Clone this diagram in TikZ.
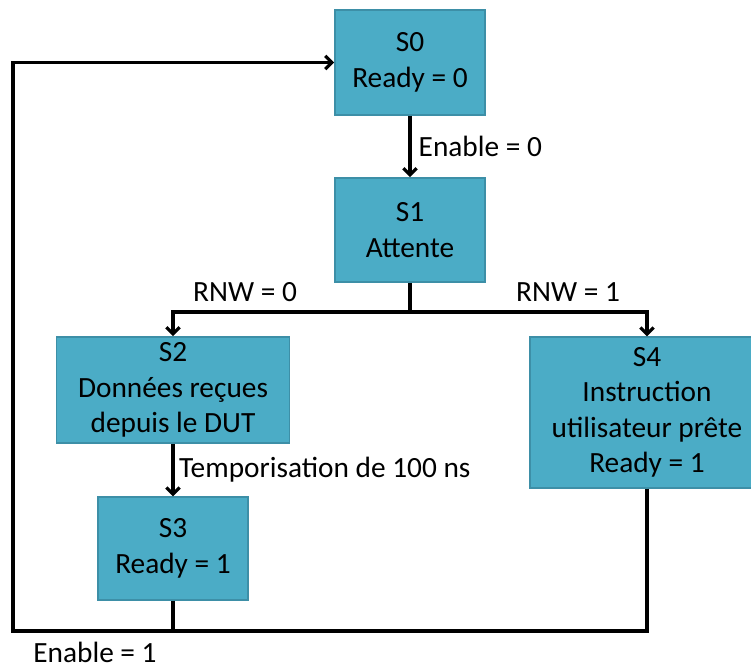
\documentclass[tikz,border=0pt]{standalone}
\usepackage{fontspec}
\setmainfont{Carlito}
\usetikzlibrary{arrows.meta}

\definecolor{boxfill}{HTML}{4BACC6}
\definecolor{boxline}{HTML}{3D8FA7}

\begin{document}
\begin{tikzpicture}[x=0.75pt, y=-0.75pt, >={Straight Barb[length=5pt,width=10pt]},
  state/.style={draw=boxline, line width=1.2pt, fill=boxfill, align=center,
    inner sep=0pt, font=\fontsize{22}{26.5}\selectfont},
  link/.style={line width=2.4pt, line join=miter},
  lbl/.style={font=\fontsize{22}{26}\selectfont}]
\useasboundingbox (0,0) rectangle (751,668);
%--- States ---
\node[state, minimum width=112.5pt, minimum height=78.75pt] (s0) at (410,62.5) {S0\\Ready = 0};
\node[state, minimum width=112.5pt, minimum height=78pt] (s1) at (410,230) {S1\\Attente};
\node[state, minimum width=175pt, minimum height=79.5pt] (s2) at (173,390) {S2\\Données reçues\\depuis le DUT};
\node[state, minimum width=112.5pt, minimum height=77pt] (s3) at (173,548.5) {S3\\Ready = 1};
\node[state, minimum width=175.5pt, minimum height=113pt] (s4) at (647,412.5) {S4\\Instruction\\utilisateur prête\\Ready = 1};
%--- Junctions ---
\coordinate (split) at (410,312);
\coordinate (loopbl) at (13,631);
%--- Transitions ---
\draw[link,->] (s0) -- (s1) node[midway, right, lbl, xshift=2pt] (en0) {Enable = 0};
\draw[link] (s1) -- (split);
\draw[link,->] (split) -| (s2.north);
\draw[link,->] (split) -| (s4.north);
\node[lbl] (rnw0) at (245,292) {RNW = 0};
\node[lbl] (rnw1) at (568,292) {RNW = 1};
\draw[link,->] (s2) -- (s3) node[midway, right, lbl] (tempo) {Temporisation de 100 ns};
% return to S0
\draw[link,->] (s3.south) -- (s3.south |- loopbl) -- (loopbl) |- (s0.west);
\draw[link] (s4.south) |- (s3.south |- loopbl);
\node[lbl, inner sep=0pt] (en1) at (95,652) {Enable = 1};
\end{tikzpicture}
\end{document}
